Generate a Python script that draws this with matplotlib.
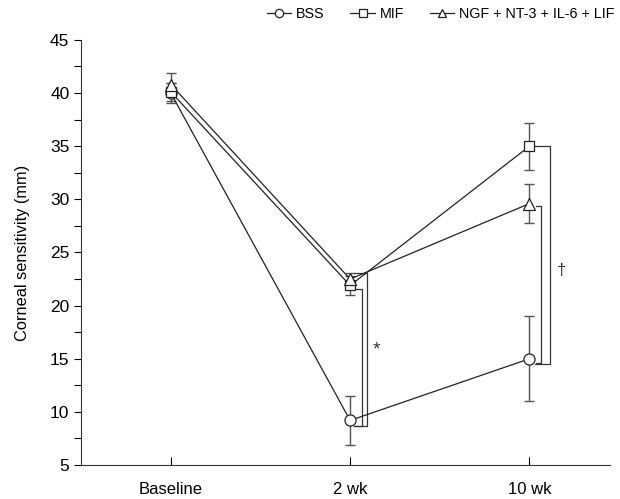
import numpy as np
import matplotlib.pyplot as plt
from matplotlib.ticker import MultipleLocator

plt.rcParams['font.family'] = ['Liberation Sans', 'DejaVu Sans']

# data
timepoints = ['Baseline', '2 wk', '10 wk']
bss = [40.0, 9.2, 15.0]
bss_err = [0.9, 2.3, 4.0]
mif = [40.1, 21.9, 35.0]
mif_err = [0.8, 0.9, 2.2]
ngf = [40.8, 22.5, 29.6]
ngf_err = [1.1, 0.6, 1.8]
series_labels = ['BSS', 'MIF', 'NGF + NT-3 + IL-6 + LIF']

fig = plt.figure(figsize=(6.2, 4.99), dpi=100)
ax = fig.add_axes([0.131, 0.068, 0.853, 0.852])

x = np.arange(len(timepoints))
markers = ['o', 's', '^']
sizes = [8, 7, 8]
handles = []
for vals, errs, m, ms, lab in zip([bss, mif, ngf], [bss_err, mif_err, ngf_err],
                                  markers, sizes, series_labels):
    ax.errorbar(x, vals, yerr=errs, fmt='none', ecolor='#555555', elinewidth=1.0,
                capsize=3.5, capthick=1.0, zorder=2)
    h, = ax.plot(x, vals, color='#222222', lw=0.9, marker=m, ms=ms,
                 mfc='white', mec='#222222', mew=0.9, label=lab, zorder=3)
    handles.append(h)

# significance brackets
def bracket(x0, x1, ytop, ybot):
    ax.plot([x0, x1, x1, x0], [ytop, ytop, ybot, ybot], color='#333333', lw=0.9, zorder=1)

bracket(1.02, 1.094, 23.1, 8.7)
bracket(1.02, 1.067, 21.6, 8.7)
ax.text(1.145, 15.8, '*', ha='center', va='center', fontsize=14, color='#333333')

bracket(2.033, 2.117, 35.0, 14.5)
bracket(2.035, 2.067, 29.4, 14.6)
ax.text(2.178, 23.3, '\u2020', ha='center', va='center', fontsize=12, color='#333333')

ax.set_xlim(-0.5, 2.45)
ax.set_ylim(5, 45)
ax.set_xticks(x)
ax.set_xticklabels(timepoints, fontsize=12)
ax.yaxis.set_major_locator(MultipleLocator(5))
ax.yaxis.set_minor_locator(MultipleLocator(2.5))
ax.tick_params(axis='y', which='both', direction='out', length=5, width=0.8, labelsize=12.5)
ax.tick_params(axis='x', direction='in', length=6, width=0.8, pad=12)
ax.set_ylabel('Corneal sensitivity (mm)', fontsize=11.8, labelpad=14)
for s in ['top', 'right']:
    ax.spines[s].set_visible(False)
for s in ['left', 'bottom']:
    ax.spines[s].set_linewidth(0.8)
    ax.spines[s].set_color('#333333')

fig.legend(handles=handles, loc='upper right', bbox_to_anchor=(1.012, 1.012), ncol=3,
           frameon=False, fontsize=10.3, handlelength=1.7, handletextpad=0.35,
           columnspacing=1.8, markerscale=0.75)

fig.savefig('out.png', dpi=100)
